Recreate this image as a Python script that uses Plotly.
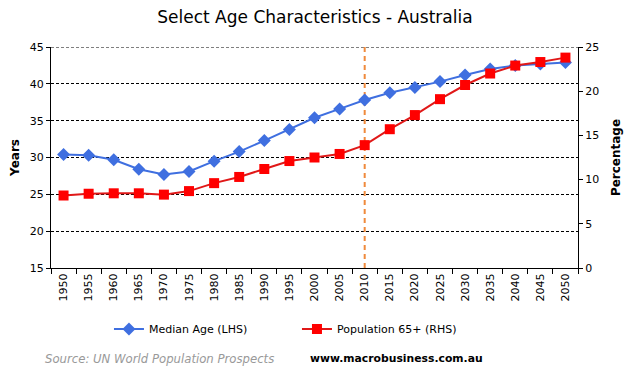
import plotly.graph_objects as go

years = [str(y) for y in range(1950, 2051, 5)]
median_age = [30.4, 30.3, 29.7, 28.4, 27.7, 28.1, 29.5, 30.8, 32.3, 33.8, 35.4,
              36.6, 37.8, 38.8, 39.5, 40.3, 41.2, 42.0, 42.5, 42.7, 42.9]
pop65 = [8.2, 8.4, 8.45, 8.45, 8.3, 8.7, 9.6, 10.3, 11.2, 12.1, 12.5,
         12.9, 13.9, 15.7, 17.3, 19.1, 20.7, 22.0, 22.9, 23.3, 23.8]
marker_year = "2010"

FONT = "DejaVu Sans"
fig = go.Figure()
fig.add_trace(go.Scatter(x=[marker_year, marker_year], y=[15, 45], mode="lines",
                         line=dict(color="#F08A3C", width=2, dash="5px,4px"),
                         showlegend=False, hoverinfo="skip", yaxis="y"))
fig.add_trace(go.Scatter(x=years, y=median_age, name="Median Age (LHS)", mode="lines+markers",
                         line=dict(color="#3F6FE0", width=2),
                         marker=dict(symbol="diamond", size=10, color="#3F6FE0"),
                         yaxis="y"))
fig.add_trace(go.Scatter(x=years, y=pop65, name="Population 65+ (RHS)", mode="lines+markers",
                         line=dict(color="#E01818", width=2),
                         marker=dict(symbol="square", size=10, color="#FF0000"),
                         yaxis="y2"))

# page body has an 8px default margin, so the figure is sized and placed to compensate
fig.update_layout(
    width=629, height=371,
    margin=dict(l=43, r=59, t=39, b=111, autoexpand=False),
    paper_bgcolor="white", plot_bgcolor="white",
    font=dict(family=FONT, size=11, color="black"),
    title=dict(text="Select Age Characteristics - Australia", x=0.488, xanchor="center",
               y=1 - 9 / 371, yanchor="middle", font=dict(family=FONT, size=17, color="black")),
    xaxis=dict(type="category", categoryorder="array", categoryarray=years,
               range=[-0.5, len(years) - 0.5],
               tickangle=-90, showline=True, linecolor="black", linewidth=1,
               ticks="outside", tickson="boundaries", ticklen=5, tickcolor="black",
               showgrid=False, tickfont=dict(size=11), automargin=False),
    yaxis=dict(range=[15, 45], dtick=5, showline=True, linecolor="black", linewidth=1,
               ticks="outside", ticklen=4, tickcolor="black",
               showgrid=True, gridcolor="black", gridwidth=1, griddash="3px,2px",
               zeroline=False, automargin=False,
               title=dict(text="<b>Years</b>", font=dict(size=12), standoff=8)),
    yaxis2=dict(range=[0, 25], dtick=5, overlaying="y", side="right", showline=True,
                linecolor="black", linewidth=1, ticks="outside", ticklen=4, tickcolor="black",
                showgrid=False, zeroline=False, automargin=False,
                title=dict(text="<b>Percentage</b>", font=dict(size=12), standoff=13)),
    legend=dict(orientation="h", x=0.11, xanchor="left", y=-0.276, yanchor="middle",
                font=dict(size=11), entrywidth=143, entrywidthmode="pixels"),
    shapes=[dict(type="line", xref="paper", x0=0, x1=1, yref="y", y0=45, y1=45,
                 line=dict(color="black", width=1, dash="3px,2px"), layer="below")],
    annotations=[
        dict(text="<i>Source: UN World Population Prospects</i>", xref="paper", yref="paper",
             x=-0.015, y=-0.41, xanchor="left", yanchor="middle", showarrow=False,
             font=dict(family=FONT, size=11.7, color="#999999")),
        dict(text="<b>www.macrobusiness.com.au</b>", xref="paper", yref="paper",
             x=0.487, y=-0.41, xanchor="left", yanchor="middle", showarrow=False,
             font=dict(family=FONT, size=10.8, color="black")),
    ],
)
fig.write_html("out.html")
